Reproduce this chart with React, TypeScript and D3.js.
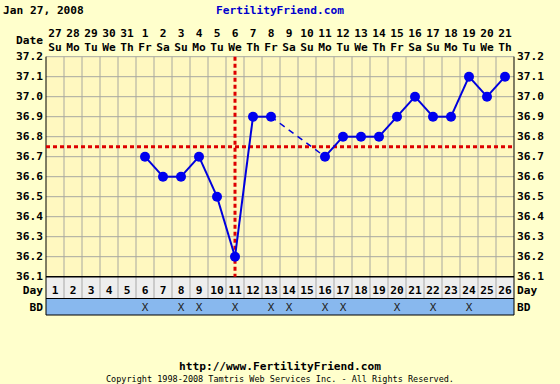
import React from "react";
import * as d3 from "d3";

const dates = ["27","28","29","30","31","1","2","3","4","5","6","7","8","9","10","11","12","13","14","15","16","17","18","19","20","21"];
const weekdays = ["Su","Mo","Tu","We","Th","Fr","Sa","Su","Mo","Tu","We","Th","Fr","Sa","Su","Mo","Tu","We","Th","Fr","Sa","Su","Mo","Tu","We","Th"];
const days = d3.range(1, 27);
const temps: (number | null)[] = [null,null,null,null,null,36.7,36.6,36.6,36.7,36.5,36.2,36.9,36.9,null,null,36.7,36.8,36.8,36.8,36.9,37.0,36.9,36.9,37.1,37.0,37.1];
const bdDays = [6,8,9,11,13,14,16,17,20,22,24];
const yTicks = [37.2,37.1,37.0,36.9,36.8,36.7,36.6,36.5,36.4,36.3,36.2,36.1];
const coverline = 36.75;
const ovulationDay = 11;

export default function App() {
  const W = 560, H = 384;
  const left = 46, right = 514, top = 56.7, bottom = 276.7;
  const colW = (right - left) / days.length;
  const xBand = d3.scaleBand<number>().domain(days).range([left, right]);
  const xc = (d: number) => (xBand(d) as number) + colW / 2;
  const y = d3.scaleLinear().domain([36.1, 37.2]).range([bottom, top]);
  const font = "'DejaVu Sans Mono', monospace";
  const fs = 11.2;
  const dayRowTop = bottom, dayRowBot = 298.5, bdBot = 315;

  const pts = days.map((d, i) => ({ d, t: temps[i] })).filter(p => p.t != null) as { d: number; t: number }[];
  const solid: [typeof pts[0], typeof pts[0]][] = [];
  const dashed: [typeof pts[0], typeof pts[0]][] = [];
  for (let i = 1; i < pts.length; i++) {
    if (pts[i].d - pts[i - 1].d === 1) solid.push([pts[i - 1], pts[i]]);
    else dashed.push([pts[i - 1], pts[i]]);
  }
  const line = d3.line<{ d: number; t: number }>().x(p => xc(p.d)).y(p => y(p.t));

  return (
    <svg width={W} height={H} style={{ position: "absolute", left: 0, top: 0, background: "#FFFFCC" }}>
      <rect x={0} y={0} width={W} height={H} fill="#FFFFCC" />
      <text x={3} y={14} fontFamily={font} fontWeight="bold" fontSize={fs} fill="#000">Jan 27, 2008</text>
      <text x={280} y={14} textAnchor="middle" fontFamily={font} fontWeight="bold" fontSize={fs} fill="#0000CC">FertilityFriend.com</text>
      <text x={43} y={44} textAnchor="end" fontFamily={font} fontWeight="bold" fontSize={fs}>Date</text>
      {days.map((d, i) => (
        <g key={"h" + d}>
          <text x={xc(d)} y={37} textAnchor="middle" fontFamily={font} fontWeight="bold" fontSize={fs}>{dates[i]}</text>
          <text x={xc(d)} y={51} textAnchor="middle" fontFamily={font} fontWeight="bold" fontSize={fs}>{weekdays[i]}</text>
        </g>
      ))}
      <rect x={left} y={top} width={right - left} height={bottom - top} fill="#FFF8C0" />
      {yTicks.map(t => (
        <line key={"gy" + t} x1={left} x2={right} y1={y(t)} y2={y(t)} stroke="#A8A8A0" strokeWidth={1} />
      ))}
      {days.slice(1).map(d => (
        <line key={"gx" + d} x1={xBand(d)} x2={xBand(d)} y1={top} y2={bottom} stroke="#A8A8A0" strokeWidth={1} />
      ))}
      {yTicks.map(t => (
        <g key={"yl" + t}>
          <text x={43} y={y(t) + 3.5} textAnchor="end" fontFamily={font} fontWeight="bold" fontSize={fs}>{t.toFixed(1)}</text>
          <text x={517} y={y(t) + 3.5} textAnchor="start" fontFamily={font} fontWeight="bold" fontSize={fs}>{t.toFixed(1)}</text>
        </g>
      ))}
      <rect x={left} y={dayRowTop} width={right - left} height={dayRowBot - dayRowTop} fill="#EEEEEE" />
      <rect x={left} y={dayRowBot} width={right - left} height={bdBot - dayRowBot} fill="#88B8EE" />
      {days.slice(1).map(d => (
        <line key={"dv" + d} x1={xBand(d)} x2={xBand(d)} y1={dayRowTop} y2={dayRowBot} stroke="#A8A8A8" />
      ))}
      {days.map(d => (
        <text key={"dn" + d} x={xc(d)} y={294} textAnchor="middle" fontFamily={font} fontWeight="bold" fontSize={fs}>{d}</text>
      ))}
      {bdDays.map(d => (
        <text key={"bd" + d} x={xc(d)} y={311} textAnchor="middle" fontFamily={font} fontSize={11} fill="#222">X</text>
      ))}
      <line x1={left} x2={right} y1={dayRowTop} y2={dayRowTop} stroke="#000" strokeWidth={1.5} />
      <line x1={left} x2={right} y1={dayRowBot} y2={dayRowBot} stroke="#000" strokeWidth={1} />
      <line x1={left} x2={right} y1={bdBot} y2={bdBot} stroke="#000" strokeWidth={1} />
      <line x1={left} x2={left} y1={top} y2={bdBot} stroke="#000" strokeWidth={1} />
      <line x1={right} x2={right} y1={top} y2={bdBot} stroke="#000" strokeWidth={1} />
      <text x={43} y={294} textAnchor="end" fontFamily={font} fontWeight="bold" fontSize={fs}>Day</text>
      <text x={517} y={294} fontFamily={font} fontWeight="bold" fontSize={fs}>Day</text>
      <text x={43} y={311} textAnchor="end" fontFamily={font} fontWeight="bold" fontSize={fs}>BD</text>
      <text x={517} y={311} fontFamily={font} fontWeight="bold" fontSize={fs}>BD</text>
      <line x1={left} x2={right} y1={y(coverline)} y2={y(coverline)} stroke="#DD0000" strokeWidth={3} strokeDasharray="4 3" />
      <line x1={xc(ovulationDay)} x2={xc(ovulationDay)} y1={top} y2={bottom} stroke="#DD0000" strokeWidth={3} strokeDasharray="4 3" />
      {solid.map((s, i) => (
        <path key={"s" + i} d={line(s) as string} fill="none" stroke="#0000DD" strokeWidth={2} />
      ))}
      {dashed.map((s, i) => (
        <path key={"ds" + i} d={line(s) as string} fill="none" stroke="#0000DD" strokeWidth={1.5} strokeDasharray="6 5" />
      ))}
      {pts.map(p => (
        <circle key={"p" + p.d} cx={xc(p.d)} cy={y(p.t)} r={5} fill="#0000EE" />
      ))}
      <text x={280} y={370} textAnchor="middle" fontFamily={font} fontWeight="bold" fontSize={fs}>http://www.FertilityFriend.com</text>
      <text x={280} y={382} textAnchor="middle" fontFamily={font} fontSize={8.5}>Copyright 1998-2008 Tamtris Web Services Inc. - All Rights Reserved.</text>
    </svg>
  );
}
